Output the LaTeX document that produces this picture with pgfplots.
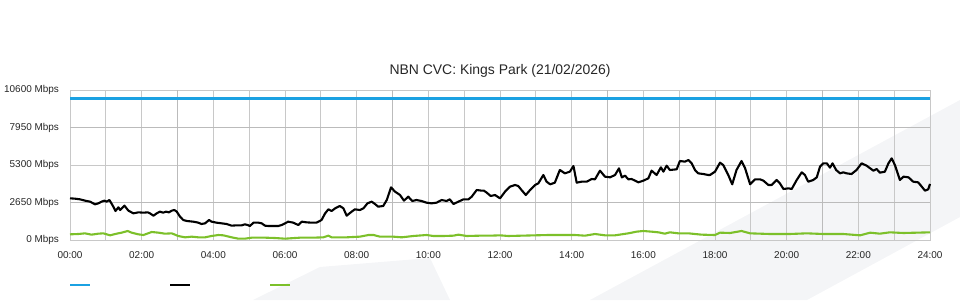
\documentclass[border=0pt]{standalone}
\usepackage{fontspec}
\setmainfont{Liberation Sans}
\usepackage{pgfplots}
\pgfplotsset{compat=1.18}
\definecolor{cvcblue}{HTML}{1BA1E2}
\definecolor{cvcgreen}{HTML}{7CC02A}
\definecolor{wm}{HTML}{F4F5F7}
\definecolor{gridc}{HTML}{C8C8C8}
\definecolor{gridd}{HTML}{BBBBBB}
\begin{document}
\begin{tikzpicture}[x=1bp,y=1bp]
\path[use as bounding box] (0,0) rectangle (960,300);
\fill[wm] (590,0) -- (960,200) -- (960,83) -- (807,0) -- cycle;
\fill[wm] (253,0) -- (320,33) -- (430,42) -- (450,0) -- cycle;
\begin{axis}[
  at={(70bp,60bp)}, anchor=south west,
  scale only axis, width=860bp, height=150bp,
  xmin=0, xmax=24, ymin=0, ymax=10600,
  scaled y ticks=false, scaled x ticks=false,
  xtick={0,2,...,24},
  xticklabels={00:00,02:00,04:00,06:00,08:00,10:00,12:00,14:00,16:00,18:00,20:00,22:00,24:00},
  minor x tick num=1,
  ytick={0,2650,5300,7950,10600},
  yticklabels={0 Mbps,2650 Mbps,5300 Mbps,7950 Mbps,10600 Mbps},
  extra x ticks={3,9,15,21}, extra x tick labels={},
  extra x tick style={grid=major, major grid style={gridd, line width=1.6bp}},
  extra y ticks={2650,7950}, extra y tick labels={},
  extra y tick style={grid=major, major grid style={gridd, line width=1.6bp}},
  grid=both,
  major grid style={gridc, line width=0.9bp},
  minor grid style={gridc, line width=0.9bp},
  major tick length=0pt, minor tick length=0pt,
  axis line style={gridc, line width=0.9bp},
  /pgf/number format/assume math mode=true,
  tick label style={font=\fontsize{10}{12}\selectfont, text=black!85},
  xticklabel style={anchor=base, yshift=-18bp},
  yticklabel style={anchor=east, xshift=-7.5bp},
  title={NBN CVC: Kings Park (21/02/2026)},
  title style={at={(0.5,1)}, anchor=base, yshift=10bp, font=\fontsize{14}{16}\selectfont, text=black!85},
  clip=false,
]
\addplot[cvcblue, line width=2.3bp] coordinates {(0,10000) (24,10000)};
\addplot[black, line width=2.1bp, line join=round] coordinates {
(0.00,2945) (0.14,2921) (0.28,2874) (0.42,2780) (0.56,2709) (0.70,2520) (0.79,2591) (0.88,2709)
(0.96,2780) (1.02,2709) (1.10,2827) (1.21,2356) (1.27,2049) (1.35,2309) (1.40,2120) (1.52,2426)
(1.63,2073) (1.77,1884) (1.91,1955) (2.05,1931) (2.17,1955) (2.23,1884) (2.33,1719) (2.42,1884)
(2.51,2002) (2.60,1931) (2.68,2002) (2.76,1955) (2.84,2073) (2.91,2120) (2.98,2002) (3.07,1649)
(3.16,1413) (3.26,1343) (3.44,1295) (3.58,1225) (3.67,1131) (3.77,1178) (3.88,1413) (3.95,1295)
(4.09,1225) (4.23,1178) (4.37,1131) (4.51,1013) (4.65,1036) (4.79,1036) (4.88,1107) (4.96,1060)
(5.02,989) (5.12,1225) (5.26,1225) (5.35,1178) (5.44,1013) (5.53,989) (5.67,989) (5.81,989)
(5.91,1060) (6.09,1295) (6.23,1225) (6.37,1060) (6.47,1295) (6.60,1248) (6.74,1225) (6.88,1225)
(7.02,1413) (7.12,1884) (7.21,2167) (7.30,2049) (7.40,2238) (7.53,2403) (7.63,2238) (7.72,1719)
(7.86,2002) (7.95,2167) (8.09,2120) (8.19,2238) (8.30,2591) (8.42,2709) (8.51,2544) (8.60,2356)
(8.74,2403) (8.84,2827) (8.96,3722) (9.07,3416) (9.21,3180) (9.32,2780) (9.44,3062) (9.55,2756)
(9.67,2827) (9.81,2756) (9.95,2638) (10.09,2591) (10.23,2638) (10.37,2827) (10.51,2756) (10.60,2874)
(10.70,2544) (10.84,2709) (10.98,2874) (11.12,2874) (11.21,3062) (11.35,3533) (11.49,3486) (11.55,3486)
(11.63,3345) (11.74,3109) (11.86,3180) (12.00,2945) (12.14,3416) (12.28,3769) (12.42,3887) (12.51,3816)
(12.60,3533) (12.72,3180) (12.84,3533) (12.98,3887) (13.07,4005) (13.21,4593) (13.30,4122) (13.40,3934)
(13.53,4052) (13.67,4947) (13.81,4711) (13.95,4829) (14.05,5230) (14.14,4052) (14.28,4122) (14.42,4122)
(14.56,4311) (14.65,4287) (14.79,4900) (14.93,4476) (15.07,4429) (15.21,4593) (15.32,5065) (15.40,4429)
(15.49,4546) (15.58,4287) (15.67,4311) (15.77,4193) (15.86,4075) (16.00,4193) (16.14,4358) (16.23,4900)
(16.37,4593) (16.49,5135) (16.56,4829) (16.65,5253) (16.74,4947) (16.93,4994) (17.02,5583) (17.16,5536)
(17.26,5654) (17.35,5418) (17.44,4947) (17.53,4711) (17.67,4664) (17.81,4593) (17.86,4593) (18.00,4829)
(18.14,5465) (18.23,5300) (18.37,4593) (18.48,3934) (18.60,4947) (18.74,5583) (18.84,5065) (18.98,3934)
(19.12,4287) (19.26,4287) (19.35,4193) (19.49,3887) (19.58,3887) (19.72,4240) (19.81,4005) (19.91,3604)
(20.05,3651) (20.14,3604) (20.28,4240) (20.42,4782) (20.51,4593) (20.60,4122) (20.74,4240) (20.84,4429)
(20.93,5182) (21.02,5418) (21.12,5418) (21.21,5112) (21.28,5418) (21.38,4947) (21.49,4711) (21.58,4782)
(21.67,4711) (21.81,4664) (21.95,4947) (22.09,5418) (22.23,5253) (22.33,5065) (22.42,4900) (22.51,5018)
(22.60,4758) (22.74,4829) (22.84,5418) (22.93,5771) (23.02,5300) (23.16,4240) (23.26,4476) (23.40,4429)
(23.53,4122) (23.67,4075) (23.77,3769) (23.86,3486) (23.95,3581) (24.00,3958)
};
\addplot[cvcgreen, line width=2.1bp, line join=round] coordinates {
(0.00,400) (0.23,424) (0.42,471) (0.60,377) (0.79,447) (0.93,471) (1.12,330) (1.26,424)
(1.44,518) (1.61,636) (1.72,518) (1.91,400) (2.05,353) (2.28,565) (2.47,518) (2.65,447)
(2.84,471) (3.02,283) (3.21,189) (3.40,236) (3.58,189) (3.77,189) (3.95,283) (4.14,353)
(4.28,330) (4.51,189) (4.70,94) (4.88,94) (5.07,165) (5.44,165) (5.72,141) (6.00,94)
(6.14,118) (6.42,165) (6.79,165) (7.07,189) (7.21,306) (7.30,189) (7.72,189) (8.09,236)
(8.33,353) (8.47,353) (8.65,236) (9.02,236) (9.26,189) (9.58,283) (9.95,353) (10.14,283)
(10.42,283) (10.70,306) (10.84,377) (11.07,283) (11.44,306) (11.72,306) (12.00,330) (12.23,283)
(12.60,306) (12.98,330) (13.35,353) (13.72,353) (14.09,353) (14.37,306) (14.65,424) (14.93,330)
(15.21,330) (15.58,471) (15.81,589) (16.00,636) (16.23,589) (16.42,542) (16.60,447) (16.74,542)
(16.98,471) (17.26,471) (17.44,424) (17.63,377) (18.00,353) (18.14,518) (18.42,495) (18.74,636)
(18.98,471) (19.53,424) (20.09,424) (20.56,471) (21.02,424) (21.58,424) (22.05,330) (22.33,518)
(22.60,447) (22.88,542) (23.26,495) (23.63,518) (24.00,542)
};
\end{axis}
\draw[cvcblue, line width=2bp] (70,15) -- (90,15);
\draw[black, line width=2bp] (170,15) -- (190,15);
\draw[cvcgreen, line width=2bp] (270,15) -- (290,15);
\end{tikzpicture}
\end{document}
